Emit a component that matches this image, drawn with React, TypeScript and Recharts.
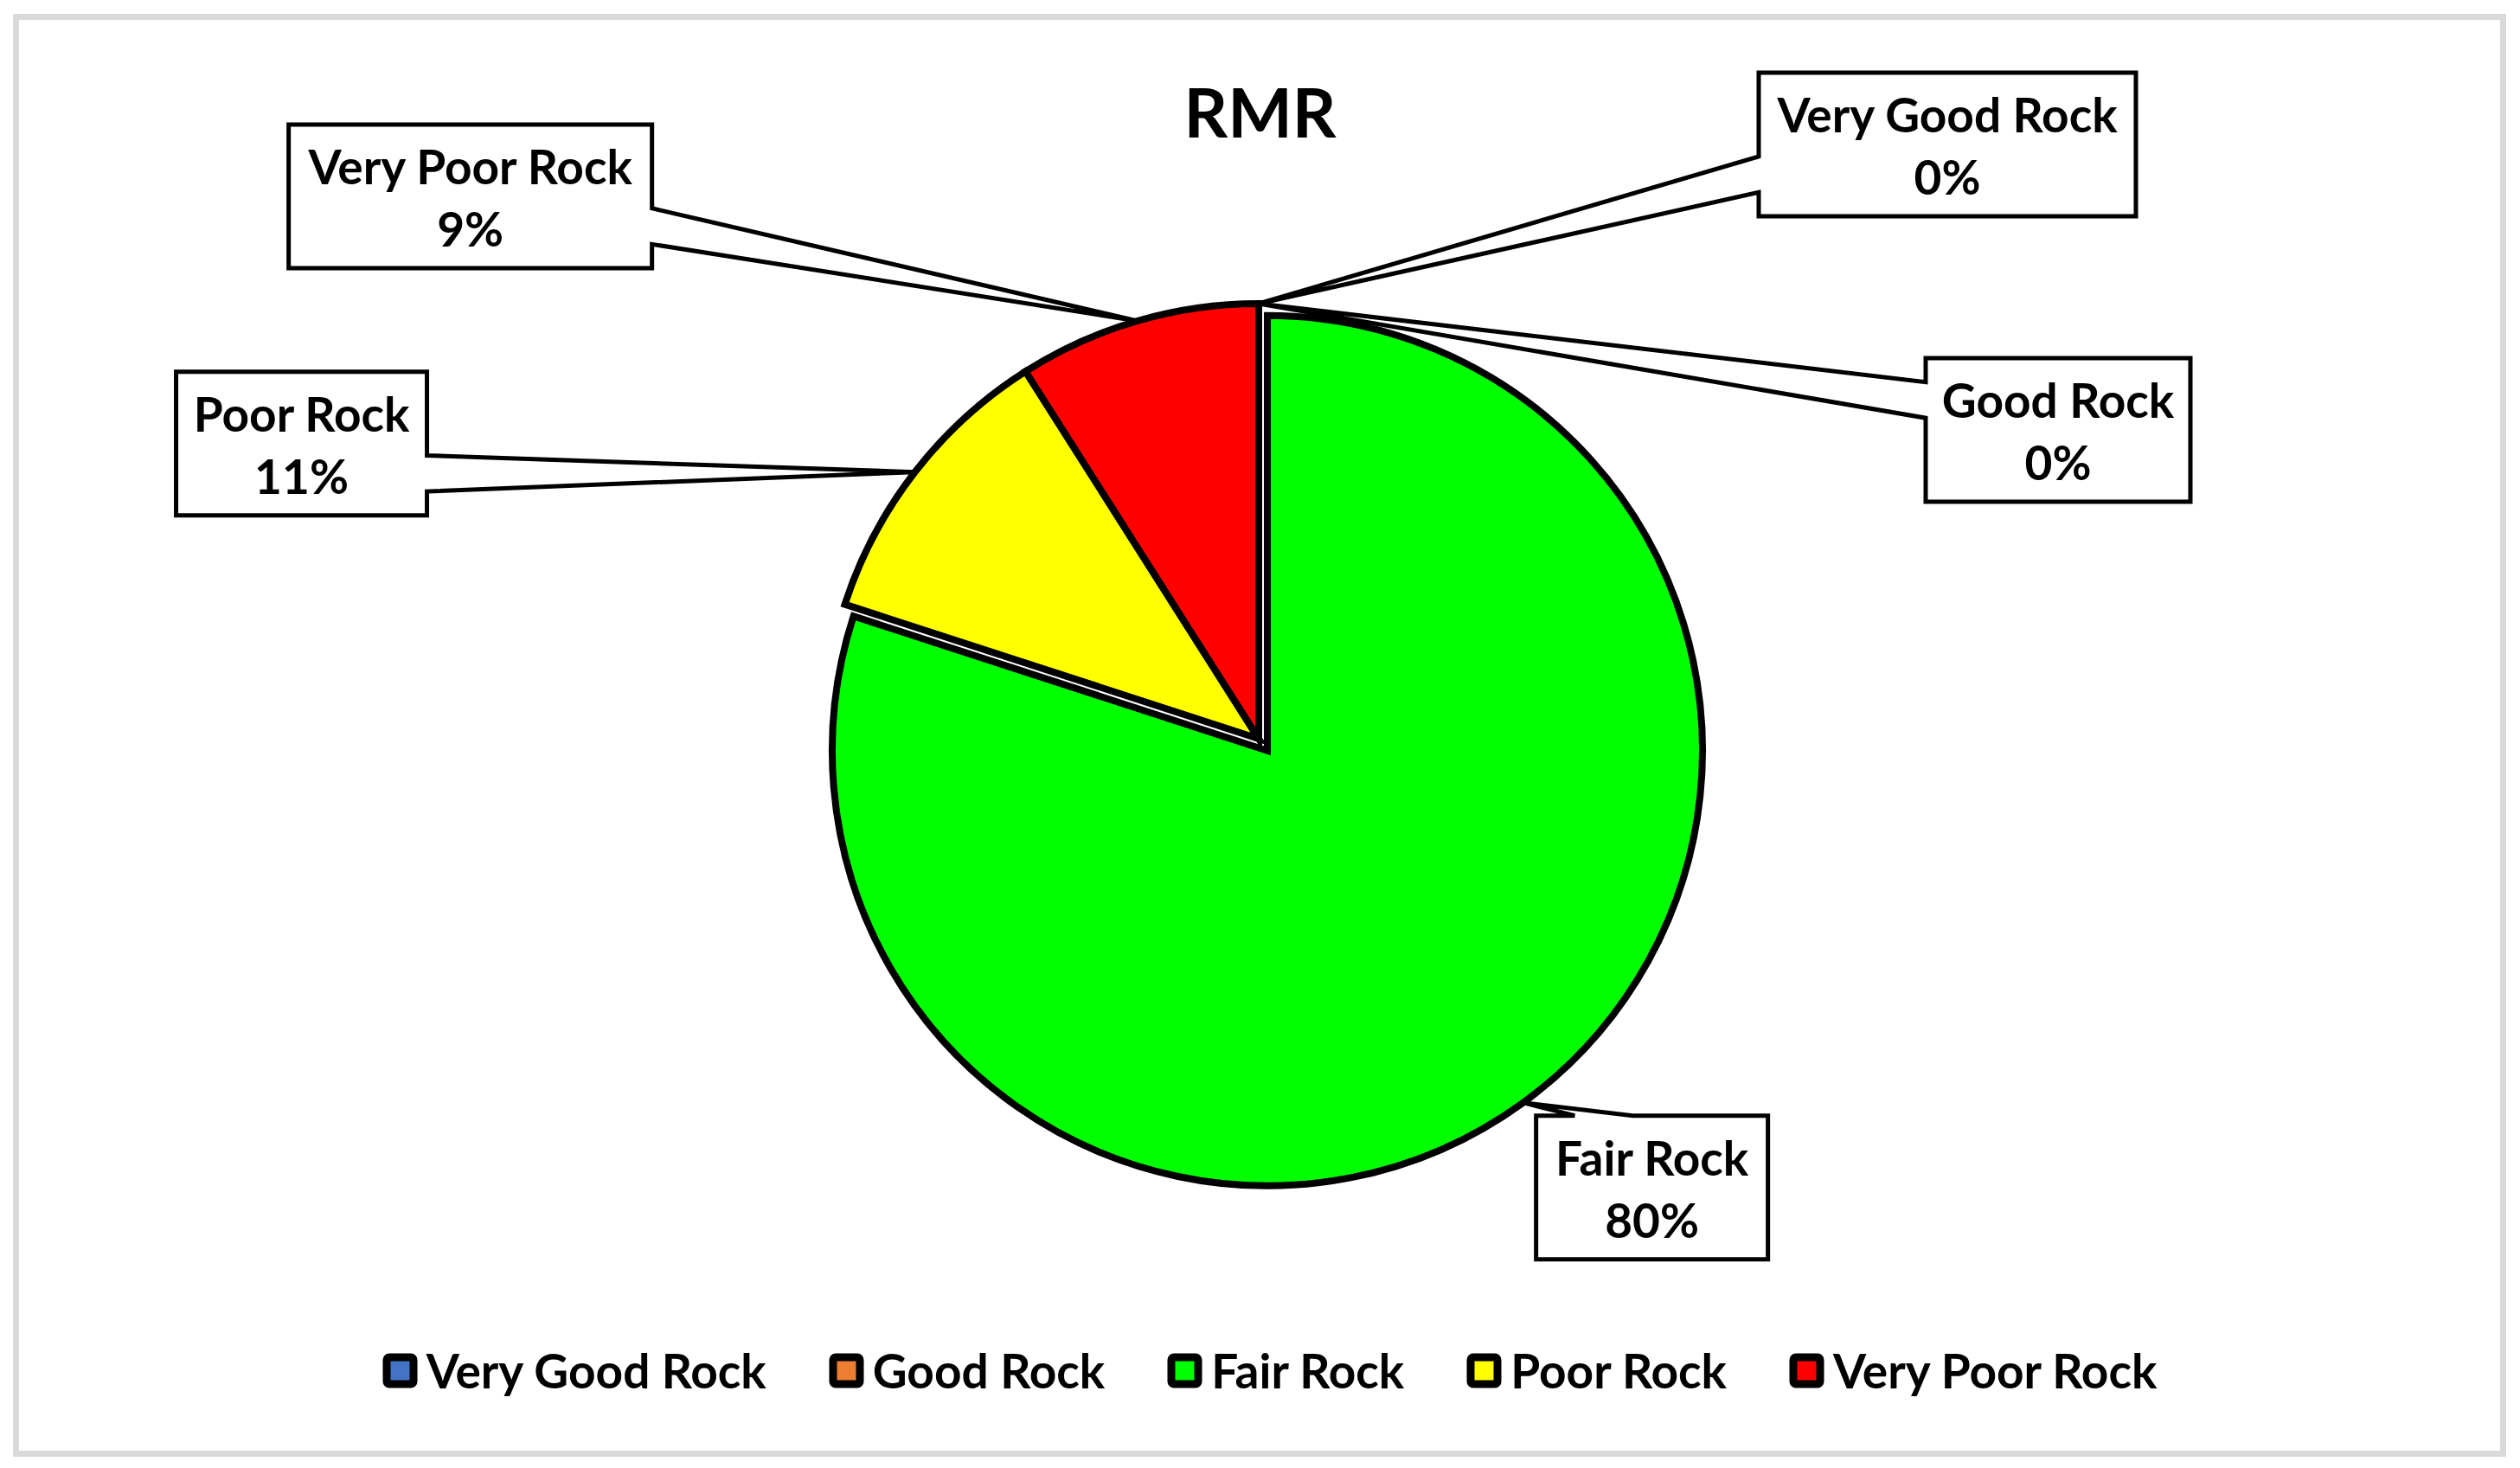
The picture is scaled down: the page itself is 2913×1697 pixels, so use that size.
import { PieChart, Pie, Cell, Legend } from 'recharts'

const categories = ['Very Good Rock', 'Good Rock', 'Fair Rock', 'Poor Rock', 'Very Poor Rock']
const shares = [0, 0, 80, 11, 9]
const colors = ['#4472C4', '#ED7D31', '#00FF00', '#FFFF00', '#FF0000']
const chartTitle = 'RMR'

const data = categories.map((name, i) => ({ name, value: shares[i] }))

// which slice Excel pulled out of the pie
const EXPLODED = 2
const EXPLODE_DIST = 17

// callout boxes: centre offset from the slice tip, and width (hand placed in the original)
const callouts = [
  { dx: 796, dy: -184, w: 436 },
  { dx: 924, dy: 146, w: 306 },
  { dx: 149, dy: 98, w: 268 },
  { dx: -709, dy: -33, w: 290 },
  { dx: -771, dy: -144, w: 420 },
]
const BOX_H = 166

const W = 2913
const H = 1697
const CX = 1455
const CY = 854
const R = 503
const SLICE_STROKE = 8
const FONT = 'Lato, "Open Sans", sans-serif'
const TEXT_SIZE = 55

const total = shares.reduce((a, b) => a + b, 0)
const before = shares.slice(0, EXPLODED).reduce((a, b) => a + b, 0)
const explodeMid = 90 - (360 * (before + shares[EXPLODED] / 2)) / total
const ex = EXPLODE_DIST * Math.cos((-explodeMid * Math.PI) / 180)
const ey = EXPLODE_DIST * Math.sin((-explodeMid * Math.PI) / 180)

function calloutPath(tx: number, ty: number, bx: number, by: number, w: number, h: number) {
  const x0 = bx - w / 2
  const x1 = bx + w / 2
  const y0 = by - h / 2
  const y1 = by + h / 2
  const relX = (tx - bx) / w
  const relY = (ty - by) / h
  const frac = (t: number) => (t < 0 ? [2 / 12, 5 / 12] : [7 / 12, 10 / 12])
  let pts: number[][]
  if (Math.abs(relX) > Math.abs(relY)) {
    const [f1, f2] = frac(relY)
    if (relX > 0) {
      pts = [[x0, y0], [x1, y0], [x1, y0 + f1 * h], [tx, ty], [x1, y0 + f2 * h], [x1, y1], [x0, y1]]
    } else {
      pts = [[x0, y0], [x1, y0], [x1, y1], [x0, y1], [x0, y0 + f2 * h], [tx, ty], [x0, y0 + f1 * h]]
    }
  } else {
    const [f1, f2] = frac(relX)
    if (relY < 0) {
      pts = [[x0, y0], [x0 + f1 * w, y0], [tx, ty], [x0 + f2 * w, y0], [x1, y0], [x1, y1], [x0, y1]]
    } else {
      pts = [[x0, y0], [x1, y0], [x1, y1], [x0 + f2 * w, y1], [tx, ty], [x0 + f1 * w, y1], [x0, y1]]
    }
  }
  return 'M' + pts.map(p => `${p[0]},${p[1]}`).join(' L') + ' Z'
}

function makeCallout(show: (i: number) => boolean) {
  return (props: any) => {
    const { cx, cy, midAngle, outerRadius, index, value, name } = props
    if (!show(index)) return null
    const rad = (-midAngle * Math.PI) / 180
    const tx = cx + outerRadius * Math.cos(rad)
    const ty = cy + outerRadius * Math.sin(rad)
    const c = callouts[index]
    const bx = tx + c.dx
    const by = ty + c.dy
    const top = by - BOX_H / 2
    return (
      <g key={`callout-${index}`}>
        <path d={calloutPath(tx, ty, bx, by, c.w, BOX_H)} fill="#fff" stroke="#000" strokeWidth={5} strokeLinejoin="miter" />
        <text x={bx} y={top + 69} textAnchor="middle" fontFamily={FONT} fontWeight={700} fontSize={TEXT_SIZE} fill="#000">
          {name}
        </text>
        <text x={bx} y={top + 141} textAnchor="middle" fontFamily={FONT} fontWeight={700} fontSize={TEXT_SIZE} fill="#000">
          {`${Math.round(value)}%`}
        </text>
      </g>
    )
  }
}

function LegendContent() {
  return (
    <div style={{ display: 'flex', justifyContent: 'center', alignItems: 'center', gap: 72, fontFamily: FONT, fontWeight: 700, fontSize: TEXT_SIZE, color: '#000' }}>
      {categories.map((c, i) => (
        <div key={c} style={{ display: 'flex', alignItems: 'center', gap: 10 }}>
          <svg width={41} height={41}>
            <rect x={5} y={5} width={31} height={31} rx={3} fill={colors[i]} stroke="#000" strokeWidth={9} />
          </svg>
          <span>{c}</span>
        </div>
      ))}
    </div>
  )
}

export default function App() {
  return (
    <div style={{ position: 'absolute', left: 0, top: 0, width: W, height: H, background: '#fff' }}>
      <div
        style={{
          position: 'absolute', left: 15, top: 16, width: 2882, height: 1668,
          border: '7px solid #d9d9d9', boxSizing: 'border-box',
        }}
      />
      <div style={{ position: 'absolute', left: 0, top: 0 }}>
        <PieChart width={W} height={H} margin={{ top: 0, right: 0, bottom: 0, left: 0 }}>
          <Pie
            data={data}
            dataKey="value"
            nameKey="name"
            cx={CX + ex}
            cy={CY + ey}
            outerRadius={R}
            startAngle={90}
            endAngle={-270}
            stroke="#000"
            strokeWidth={SLICE_STROKE}
            style={{ strokeWidth: SLICE_STROKE }}
            label={makeCallout(i => i === EXPLODED)}
            labelLine={false}
            legendType="none"
            isAnimationActive={false}
          >
            {data.map((d, i) => (
              <Cell
                key={d.name}
                fill={i === EXPLODED ? colors[i] : 'none'}
                stroke={i === EXPLODED ? '#000' : 'none'}
                strokeWidth={SLICE_STROKE}
                style={{ strokeWidth: SLICE_STROKE }}
              />
            ))}
          </Pie>
          <Pie
            data={data}
            dataKey="value"
            nameKey="name"
            cx={CX}
            cy={CY}
            outerRadius={R}
            startAngle={90}
            endAngle={-270}
            stroke="#000"
            strokeWidth={SLICE_STROKE}
            style={{ strokeWidth: SLICE_STROKE }}
            label={makeCallout(i => i !== EXPLODED)}
            labelLine={false}
            isAnimationActive={false}
          >
            {data.map((d, i) => (
              <Cell
                key={d.name}
                fill={i === EXPLODED ? 'none' : colors[i]}
                stroke={i === EXPLODED ? 'none' : '#000'}
                strokeWidth={SLICE_STROKE}
                style={{ strokeWidth: SLICE_STROKE }}
              />
            ))}
          </Pie>
          <Legend
            layout="vertical"
            align="right"
            verticalAlign="middle"
            content={<LegendContent />}
            wrapperStyle={{ top: 1551, left: 11, right: 'auto', width: W }}
          />
        </PieChart>
      </div>
      <div
        style={{
          position: 'absolute', left: 0, width: W, top: 89, textAlign: 'center',
          fontFamily: FONT, fontWeight: 700, fontSize: 79, lineHeight: '79px', color: '#000',
        }}
      >
        {chartTitle}
      </div>
    </div>
  )
}
